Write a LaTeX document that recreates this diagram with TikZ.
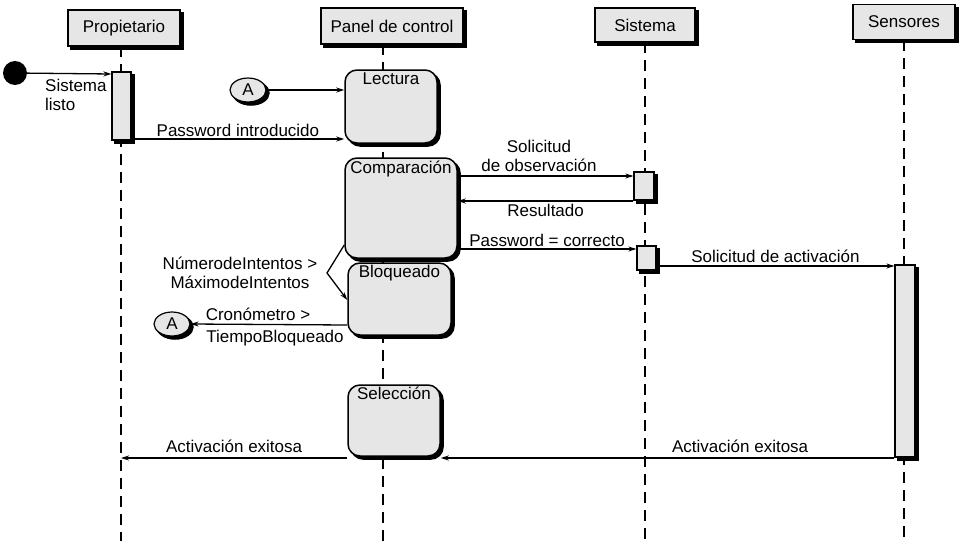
\documentclass[tikz,border=0pt]{standalone}
\usepackage{fontspec}
\setmainfont{Liberation Sans}
\usetikzlibrary{arrows.meta,shapes.geometric}
\definecolor{fillg}{HTML}{E6E6E6}
\begin{document}
\begin{tikzpicture}[x=1pt,y=-1pt,
 shad/.style={preaction={draw=black,fill=black,line width=1.5pt,transform canvas={shift={(3pt,-3pt)}}}},
 head/.style={draw,line width=1.2pt,fill=fillg,shad,inner sep=0pt,font=\fontsize{17}{19}\selectfont},
 act/.style={draw,line width=1.2pt,fill=fillg,shad},
 st/.style={draw,line width=1.5pt,fill=fillg,rounded corners=12pt,shad},
 lbl/.style={font=\fontsize{17}{19}\selectfont,inner sep=1pt},
 life/.style={line width=2.5pt,dash pattern=on 11pt off 7pt},
 msg/.style={line width=1.3pt,-{Stealth[length=8pt,width=5pt]}},
 con/.style={draw,line width=1.2pt,fill=fillg,ellipse,minimum width=36pt,minimum height=24pt,inner sep=0pt,shad,font=\fontsize{17}{19}\selectfont}]
\useasboundingbox (0,0) rectangle (967,541);
% lifelines
\draw[life] (121,46) -- (121,541);
\draw[life] (383,44) -- (383,541);
\draw[life] (645,42) -- (645,541);
\draw[life] (904,40) -- (904,541);
% headers
\node[head,minimum width=112pt,minimum height=36pt] (hp) at (124,28) {Propietario};
\node[head,minimum width=142pt,minimum height=36pt] (hc) at (392,26) {Panel de control};
\node[head,minimum width=100pt,minimum height=34pt] (hs) at (645,25) {Sistema};
\node[head,minimum width=102pt,minimum height=35pt] (hn) at (904,22) {Sensores};
% activations
\node[act,minimum width=19pt,minimum height=68pt,inner sep=0pt] (ap) at (121.5,106) {};
\node[act,minimum width=20pt,minimum height=28pt,inner sep=0pt] (as1) at (644,186) {};
\node[act,minimum width=19pt,minimum height=24pt,inner sep=0pt] (as2) at (646.5,258) {};
\node[act,minimum width=20pt,minimum height=192pt,inner sep=0pt] (an) at (905,361) {};
% states
\node[st,minimum width=92pt,minimum height=73pt,inner sep=0pt] (lec) at (391,106.5) {};
\node[lbl,anchor=north] at (lec.north) [yshift=-2pt] {Lectura};
\node[st,minimum width=112pt,minimum height=100pt,inner sep=0pt] (com) at (401,208) {};
\node[lbl,anchor=north] at (com.north) [yshift=-3pt] {Comparación};
\node[st,minimum width=103pt,minimum height=72pt,inner sep=0pt] (blo) at (399.5,299) {};
\node[lbl,anchor=north] at (blo.north) [yshift=-2pt] {Bloqueado};
\node[st,minimum width=92pt,minimum height=71pt,inner sep=0pt] (sel) at (394,420.5) {};
\node[lbl,anchor=north] at (sel.north) [yshift=-2pt] {Selección};
% start
\fill (15,73) circle (12pt) coordinate (ini);
\draw[msg] (ini) -- (ap.north west|-0,74);
\node[lbl,align=left,anchor=north west] at (44,78) {Sistema\\listo};
% A connectors
\node[con] (a1) at (248,90) {A};
\node[con] (a2) at (172,324) {A};
\draw[msg] (a1.east) -- (lec.west|-a1);
\draw[msg] (ap.east|-0,139) -- (lec.west|-0,139) node[lbl,midway,above=1pt] {Password introducido};
\draw[msg] (com.east|-0,176) -- (as1.west|-0,176);
\node[lbl,align=center] at (539,156) {Solicitud\\de observación};
\draw[msg] (as1.west|-0,201) -- (com.east|-0,201) node[lbl,midway,below=2pt] {Resultado};
\draw[msg] (com.east|-0,249) -- (as2.west|-0,249) node[lbl,midway,above=1pt] {Password = correcto};
\draw[msg] (as2.east|-0,266) -- (an.west|-0,266) node[lbl,midway,above=2pt] {Solicitud de activación};
\coordinate (br) at (327,273);
\draw[msg] (com.west|-0,245) -- (br) -- (blo.west|-0,300);
\node[lbl,align=center] at (240,273) {NúmerodeIntentos >\\MáximodeIntentos};
\draw[msg] (blo.west|-0,325) -- (a2.east);
\node[lbl] at (258,314) {Cronómetro >};
\node[lbl] at (275,338) {TiempoBloqueado};
\draw[msg] (an.west|-0,458) -- (sel.east|-0,458) node[lbl,pos=0.34,above=4pt] {Activación exitosa};
\draw[msg] (sel.west|-0,458) -- (121,458) node[lbl,midway,above=4pt] {Activación exitosa};
\end{tikzpicture}
\end{document}
